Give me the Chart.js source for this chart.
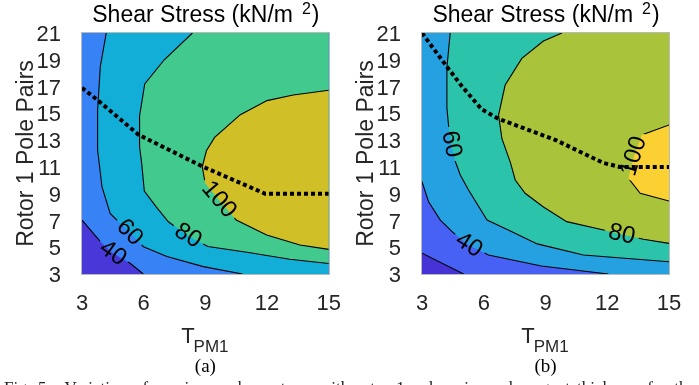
<!DOCTYPE html>
<html>
<head>
<meta charset="utf-8">
<script src="https://cdn.jsdelivr.net/npm/chart.js@4.4.1/dist/chart.umd.min.js"></script>
<style>
  html, body { margin: 0; padding: 0; background: #fff; width: 699px; height: 385px; overflow: hidden; }
  #wrap { position: relative; width: 699px; height: 385px; overflow: hidden; }
  #ca { position: absolute; left: 0; top: 0; }
  #cb { position: absolute; left: 350px; top: 0; }
  #cap { position: absolute; left: 4px; top: 379px; width: 691px; font: 17px 'Liberation Serif', serif; line-height: 17px;
         color: #222; white-space: nowrap; text-align: justify; text-align-last: justify; }
</style>
</head>
<body>
<div id="wrap">
  <canvas id="ca" width="350" height="385"></canvas>
  <canvas id="cb" width="349" height="385"></canvas>
  <div id="cap">Fig. 5.&nbsp; Variation of maximum shear stress with rotor 1 pole pairs and magnet thickness for the</div>
</div>
<script>
// Axis ticks
const tpmTicks = [3, 6, 9, 12, 15];
const polePairTicks = [3, 5, 7, 9, 11, 13, 15, 17, 19, 21];

// Panel (a): shear stress contour lines, points are [T_PM1, pole pairs]
const levelsA = [40, 60, 80, 100];
const lineA40 = [[3, 7.03], [3.97, 5.29], [4.5, 4.55], [5.34, 3.8], [5.98, 3]];
const lineA60 = [[4.18, 21], [3.89, 18.5], [3.76, 15.25], [3.76, 12.26], [3.97, 9.52], [4.37, 7.53], [5.31, 6.1],
                 [5.99, 5.04], [7.13, 4.3], [8.9, 3.55], [10.8, 3]];
const lineA80 = [[8.37, 21], [7.0, 19.0], [6.05, 17.2], [5.8, 14.8], [5.8, 12.5], [5.9, 11.3], [6.03, 9.2], [6.6, 8.03],
                 [7.2, 6.9], [8.15, 5.85], [9.12, 5.06], [11.1, 4.6], [13.1, 4.1], [15, 3.78]];
const lineA100 = [[15, 16.72], [13.27, 16.37], [12.0, 15.95], [10.7, 14.9], [9.45, 13.2], [9.05, 12.2], [8.85, 11.0],
                  [8.99, 9.77], [9.65, 8.55], [10.5, 7.03], [11.98, 5.91], [13.6, 5.17], [15, 4.84]];
const labelAtA = [2, 6, 9, 8];          // vertex carrying each level's number
const optimumA = [[3, 16.9], [3.75, 16], [5.75, 13.4], [8.9, 11], [11.9, 9], [15, 9]];

// Panel (b)
const levelsB = [20, 40, 60, 80, 100];
const lineB20 = [[3, 4.55], [5.02, 3]];
const lineB40 = [[3, 9.9], [3.32, 8.4], [3.89, 7.03], [4.46, 6.16], [5.28, 5.15], [6.23, 4.42], [8.8, 3.6], [12.05, 3]];
const lineB60 = [[4.37, 21], [4.21, 18.4], [4.21, 15.4], [4.29, 14.1], [4.42, 12.7], [4.62, 11.4], [4.86, 10.4],
                 [5.26, 9.27], [6.16, 7.03], [7.37, 6.16], [8.6, 5.25], [10.84, 4.42], [15, 3.92]];
const lineB80 = [[9.8, 21], [8.9, 20.4], [7.85, 19.1], [7.04, 17.11], [6.72, 14.87], [6.88, 13.13], [7.3, 11.3],
                 [7.53, 10.02], [8.01, 9.03], [8.9, 8.0], [10.03, 6.91], [11.82, 6.29], [12.7, 5.95], [13.76, 5.6], [15, 5.29]];
const lineB100 = [[15, 14.13], [13.68, 13.38], [13.3, 11.8], [13.03, 10.15], [13.6, 9.03], [15, 8.45]];
const labelAtB = [null, 4, 4, 12, 2];
const optimumB = [[3, 21], [4.2, 18.5], [4.95, 17], [5.9, 15.3], [6.7, 14.6], [9.5, 13], [11.8, 11.3], [12.6, 11], [15, 11]];

// Filled band colours, lowest band first
const bandColorsA = ['#4838d8', '#3782f5', '#13aed8', '#41c98e', '#d1bf27'];
const bandColorsB = ['#4633d5', '#4761f4', '#25a1e2', '#2bc3a9', '#a9c43a', '#fbd032'];

const X_MIN = tpmTicks[0], X_MAX = tpmTicks[tpmTicks.length - 1];
const Y_MIN = polePairTicks[0], Y_MAX = polePairTicks[polePairTicks.length - 1];
const SANS = "'Liberation Sans', Arial, sans-serif";
const LABEL_FONT = '24px ' + SANS;

function toPx(chart, p) {
  return [chart.scales.x.getPixelForValue(p[0]), chart.scales.y.getPixelForValue(p[1])];
}

// The region above a level lies to the left of its line, so the polygon is
// closed by walking the frame counter-clockwise from the line's end to its start.
function closingCorners(line) {
  const W = X_MAX - X_MIN, H = Y_MAX - Y_MIN, P = 2 * (W + H), eps = 1e-6;
  const s = ([x, y]) => {
    if (Math.abs(y - Y_MIN) < eps) return x - X_MIN;
    if (Math.abs(x - X_MAX) < eps) return W + (y - Y_MIN);
    if (Math.abs(y - Y_MAX) < eps) return W + H + (X_MAX - x);
    return 2 * W + H + (Y_MAX - y);
  };
  const corners = [
    { s: 0, p: [X_MIN, Y_MIN] }, { s: W, p: [X_MAX, Y_MIN] },
    { s: W + H, p: [X_MAX, Y_MAX] }, { s: 2 * W + H, p: [X_MIN, Y_MAX] }
  ];
  const se = s(line[line.length - 1]), ss = s(line[0]);
  const span = ((ss - se) % P + P) % P;
  return corners
    .map(c => ({ d: ((c.s - se) % P + P) % P, p: c.p }))
    .filter(c => c.d > eps && c.d < span - eps)
    .sort((a, b) => a.d - b.d)
    .map(c => c.p);
}

function labelAngle(chart, line, i) {
  const a = toPx(chart, line[i - 1]), b = toPx(chart, line[i + 1]);
  let ang = Math.atan2(b[1] - a[1], b[0] - a[0]);
  if (ang > Math.PI / 2) ang -= Math.PI;
  else if (ang <= -Math.PI / 2) ang += Math.PI;
  return ang;
}

function panelPlugin(panel) {
  return {
    id: 'panel',
    beforeDatasetsDraw(chart) {
      const { ctx, chartArea: a } = chart;
      ctx.save();
      ctx.beginPath();
      ctx.rect(a.left, a.top, a.right - a.left, a.bottom - a.top);
      ctx.clip();
      ctx.fillStyle = panel.colors[0];
      ctx.fillRect(a.left, a.top, a.right - a.left, a.bottom - a.top);
      panel.lines.forEach((line, k) => {
        const poly = line.concat(closingCorners(line));
        ctx.beginPath();
        poly.forEach((p, i) => {
          const [px, py] = toPx(chart, p);
          if (i) ctx.lineTo(px, py); else ctx.moveTo(px, py);
        });
        ctx.closePath();
        ctx.fillStyle = panel.colors[k + 1];
        ctx.fill();
      });
      // level numbers written along their lines
      ctx.fillStyle = '#000';
      ctx.font = LABEL_FONT;
      ctx.textAlign = 'center';
      ctx.textBaseline = 'middle';
      panel.lines.forEach((line, k) => {
        const i = panel.labelAt[k];
        if (i == null) return;
        const [px, py] = toPx(chart, line[i]);
        ctx.save();
        ctx.translate(px, py);
        ctx.rotate(labelAngle(chart, line, i));
        ctx.fillText(String(panel.levels[k]), 0, 0);
        ctx.restore();
      });
      ctx.restore();
    },
    beforeDatasetDraw(chart, args) {
      const ds = chart.data.datasets[args.index];
      if (ds.levelIndex == null) return;
      const ctx = chart.ctx;
      ctx.save();
      const k = ds.levelIndex, i = panel.labelAt[k];
      if (i == null) return;
      // leave a gap in the line where its number sits
      ctx.font = LABEL_FONT;
      const w = ctx.measureText(String(panel.levels[k])).width + 8;
      const h = 22;
      const [px, py] = toPx(chart, panel.lines[k][i]);
      const ang = labelAngle(chart, panel.lines[k], i);
      const c = Math.cos(ang), s = Math.sin(ang);
      ctx.beginPath();
      ctx.rect(0, 0, chart.width, chart.height);
      [[-w / 2, -h / 2], [w / 2, -h / 2], [w / 2, h / 2], [-w / 2, h / 2]].forEach(([dx, dy], j) => {
        const x = px + dx * c - dy * s, y = py + dx * s + dy * c;
        if (j) ctx.lineTo(x, y); else ctx.moveTo(x, y);
      });
      ctx.closePath();
      ctx.clip('evenodd');
    },
    afterDatasetDraw(chart, args) {
      const ds = chart.data.datasets[args.index];
      if (ds.levelIndex == null) return;
      chart.ctx.restore();
    },
    afterDatasetsDraw(chart) {
      const { ctx, chartArea: a } = chart;
      ctx.save();
      ctx.strokeStyle = '#b9b9b9';
      ctx.lineWidth = 1;
      ctx.strokeRect(Math.round(a.left) - 0.5, Math.round(a.top) - 0.5,
                     Math.round(a.right - a.left) + 1, Math.round(a.bottom - a.top) + 1);
      ctx.restore();
    },
    afterDraw(chart) {
      const { ctx, chartArea: a } = chart;
      const cx = (a.left + a.right) / 2, cy = (a.top + a.bottom) / 2;
      ctx.save();
      ctx.textBaseline = 'alphabetic';
      ctx.textAlign = 'left';
      // title with superscript
      const big = '23px ' + SANS, small = '16px ' + SANS;
      ctx.font = big;
      const t1 = 'Shear Stress (kN/m', t3 = ')';
      const w1 = ctx.measureText(t1).width, w3 = ctx.measureText(t3).width;
      ctx.font = small;
      const w2 = ctx.measureText('2').width;
      const gap = 9;
      let x0 = cx - (w1 + gap + w2 + w3) / 2;
      ctx.fillStyle = '#000';
      ctx.font = big; ctx.fillText(t1, x0, 22);
      ctx.font = small; ctx.fillText('2', x0 + w1 + gap, 13.5);
      ctx.font = big; ctx.fillText(t3, x0 + w1 + gap + w2 + 1, 22);

      // y axis title
      ctx.fillStyle = '#262626';
      ctx.save();
      ctx.translate(a.left - 49, cy);
      ctx.rotate(-Math.PI / 2);
      ctx.font = '23px ' + SANS;
      ctx.textAlign = 'center';
      ctx.fillText('Rotor 1 Pole Pairs', 0, 0);
      ctx.restore();

      // x axis title with subscript
      const fT = '22px ' + SANS, fS = '17px ' + SANS;
      ctx.font = fT; const wT = ctx.measureText('T').width;
      ctx.font = fS; const wS = ctx.measureText('PM1').width;
      const xs = cx - (wT + wS) / 2;
      ctx.font = fT; ctx.fillText('T', xs, 343);
      ctx.font = fS; ctx.fillText('PM1', xs + wT - 1, 352);

      // panel tag
      ctx.fillStyle = '#000';
      ctx.font = "19px 'Liberation Serif', serif";
      ctx.textAlign = 'center';
      ctx.fillText(panel.tag, cx, 371.5);
      ctx.restore();
    }
  };
}

function buildPanel(canvasId, panel, axisWidth, rightPad) {
  const datasets = [{
    data: panel.optimum.map(([x, y]) => ({ x, y })),
    showLine: true, borderColor: '#000', borderWidth: 4, borderDash: [4, 3],
    borderCapStyle: 'butt', pointRadius: 0, order: 0
  }].concat(panel.lines.map((line, k) => ({
    data: line.map(([x, y]) => ({ x, y })),
    showLine: true, borderColor: '#000', borderWidth: 1.1, pointRadius: 0, order: 1, levelIndex: k
  })));
  const tickFont = { family: SANS, size: 22 };
  return new Chart(document.getElementById(canvasId), {
    type: 'scatter',
    data: { datasets },
    options: {
      responsive: false, animation: false, devicePixelRatio: 1,
      layout: { padding: { top: 33, right: rightPad, left: 0, bottom: 0 } },
      plugins: { legend: { display: false }, tooltip: { enabled: false } },
      scales: {
        x: {
          type: 'linear', min: X_MIN, max: X_MAX,
          afterBuildTicks: s => { s.ticks = tpmTicks.map(v => ({ value: v })); },
          afterFit: s => { s.height = 111; },
          grid: { display: false }, border: { display: false },
          ticks: { font: tickFont, color: '#262626', padding: 9, maxRotation: 0, autoSkip: false }
        },
        y: {
          type: 'linear', min: Y_MIN, max: Y_MAX,
          afterBuildTicks: s => { s.ticks = polePairTicks.map(v => ({ value: v })); },
          afterFit: s => { s.width = axisWidth; },
          grid: { display: false }, border: { display: false },
          ticks: { font: tickFont, color: '#262626', padding: 13, labelOffset: 2, autoSkip: false }
        }
      }
    },
    plugins: [panelPlugin(panel)]
  });
}

buildPanel('ca', {
  lines: [lineA40, lineA60, lineA80, lineA100], levels: levelsA, labelAt: labelAtA,
  colors: bandColorsA, optimum: optimumA, tag: '(a)'
}, 82, 21);

buildPanel('cb', {
  lines: [lineB20, lineB40, lineB60, lineB80, lineB100], levels: levelsB, labelAt: labelAtB,
  colors: bandColorsB, optimum: optimumB, tag: '(b)'
}, 72, 30);
</script>
</body>
</html>
